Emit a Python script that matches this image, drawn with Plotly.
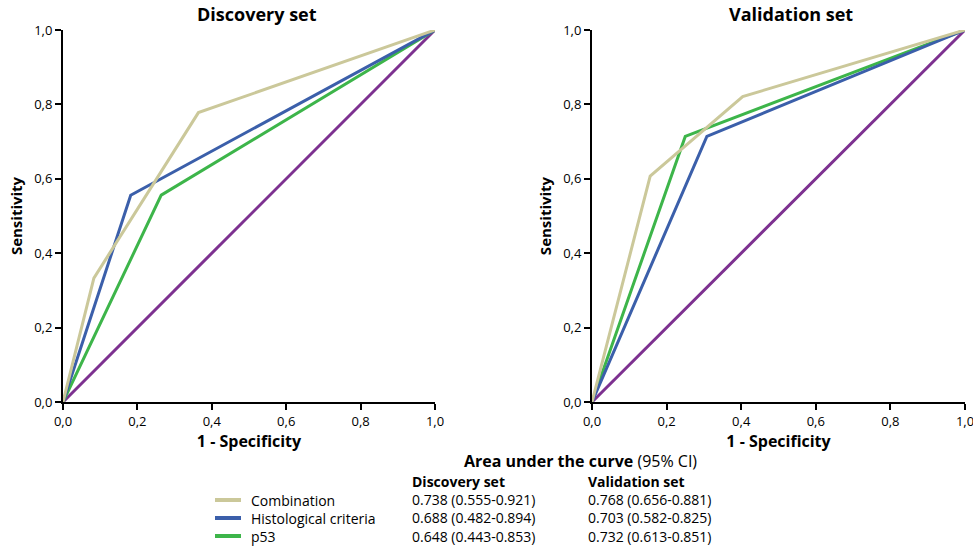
import plotly.graph_objects as go

# ROC curve points (1 - specificity, sensitivity)
disc_comb_x = [0, 0.083, 0.364, 1]
disc_comb_y = [0, 0.333, 0.778, 1]
disc_hist_x = [0, 0.182, 1]
disc_hist_y = [0, 0.556, 1]
disc_p53_x = [0, 0.264, 1]
disc_p53_y = [0, 0.556, 1]

val_comb_x = [0, 0.156, 0.404, 1]
val_comb_y = [0, 0.607, 0.821, 1]
val_hist_x = [0, 0.308, 1]
val_hist_y = [0, 0.714, 1]
val_p53_x = [0, 0.25, 1]
val_p53_y = [0, 0.714, 1]

ref_x = [0, 1]
ref_y = [0, 1]

series_names = ["Combination", "Histological criteria", "p53"]
series_colors = ["#cbc89a", "#3b5faa", "#3db54a"]
ref_color = "#7d3190"
auc_discovery = ["0.738 (0.555-0.921)", "0.688 (0.482-0.894)", "0.648 (0.443-0.853)"]
auc_validation = ["0.768 (0.656-0.881)", "0.703 (0.582-0.825)", "0.732 (0.613-0.851)"]

tick_vals = [0, 0.2, 0.4, 0.6, 0.8, 1.0]
tick_text = ["0,0", "0,2", "0,4", "0,6", "0,8", "1,0"]

FONT = "Open Sans"
fig = go.Figure()

panels = [
    ("x", "y", [(disc_comb_x, disc_comb_y), (disc_hist_x, disc_hist_y), (disc_p53_x, disc_p53_y)]),
    ("x2", "y2", [(val_comb_x, val_comb_y), (val_hist_x, val_hist_y), (val_p53_x, val_p53_y)]),
]
for xa, ya, curves in panels:
    fig.add_trace(go.Scatter(x=ref_x, y=ref_y, mode="lines", xaxis=xa, yaxis=ya,
                             line=dict(color=ref_color, width=3), showlegend=False,
                             cliponaxis=False))
    for (cx, cy), name, col in reversed(list(zip(curves, series_names, series_colors))):
        fig.add_trace(go.Scatter(x=cx, y=cy, mode="lines", name=name, xaxis=xa, yaxis=ya,
                                 line=dict(color=col, width=3), showlegend=False,
                                 cliponaxis=False))

axis_common = dict(range=[0, 1], tickvals=tick_vals, ticktext=tick_text, automargin=False,
                   showgrid=False, zeroline=False, showline=True, linecolor="black",
                   linewidth=2, ticks="outside", ticklen=6, tickwidth=2, tickcolor="black",
                   ticklabeloverflow="allow",
                   tickfont=dict(family=FONT, size=13, color="black"), fixedrange=True)
xtitle_font = dict(family=FONT, size=16, color="black")
ytitle_font = dict(family=FONT, size=15, color="black")
y_dom = [1 - 402 / 550, 1 - 30 / 550]
fig.update_layout(
    width=973, height=550, margin=dict(l=0, r=0, t=0, b=0),
    plot_bgcolor="white", paper_bgcolor="white",
    xaxis=dict(domain=[63 / 973, 435 / 973], anchor="y",
               title=dict(text="<b>1 - Specificity</b>", font=xtitle_font, standoff=5),
               **axis_common),
    yaxis=dict(domain=y_dom, anchor="x",
               title=dict(text="<b>Sensitivity</b>", font=ytitle_font, standoff=8),
               **axis_common),
    xaxis2=dict(domain=[592 / 973, 965 / 973], anchor="y2",
                title=dict(text="<b>1 - Specificity</b>", font=xtitle_font, standoff=5),
                **axis_common),
    yaxis2=dict(domain=y_dom, anchor="x2",
                title=dict(text="<b>Sensitivity</b>", font=ytitle_font, standoff=8),
                **axis_common),
)

def ann(text, x, y, size=14, xanchor="left", yanchor="middle"):
    fig.add_annotation(text=text, x=x, y=y, xref="paper", yref="paper", showarrow=False,
                       xanchor=xanchor, yanchor=yanchor, align="left",
                       font=dict(family=FONT, size=size, color="black"))

def px(xp):
    return xp / 973

def py(yp):
    return 1 - yp / 550

# panel titles
ann("<b>Discovery set</b>", px(257), py(14), size=18, xanchor="center")
ann("<b>Validation set</b>", px(791), py(14), size=18, xanchor="center")

# AUC table: heading, then one text block per column
ann("<b>Area under the curve</b> (95% CI)", px(580), py(461), size=16, xanchor="center")
row_y = [500, 518, 536]
table_top = py(470)
ann("<br>".join(series_names), px(249), py(489), yanchor="top")
ann("<br>".join(["<b>Discovery set</b>"] + auc_discovery), px(410), table_top, yanchor="top")
ann("<br>".join(["<b>Validation set</b>"] + auc_validation), px(586), table_top, yanchor="top")
for col, ry in zip(series_colors, row_y):
    fig.add_shape(type="line", xref="paper", yref="paper", x0=px(215), x1=px(241),
                  y0=py(ry), y1=py(ry), line=dict(color=col, width=4))

fig.write_html("out.html")
